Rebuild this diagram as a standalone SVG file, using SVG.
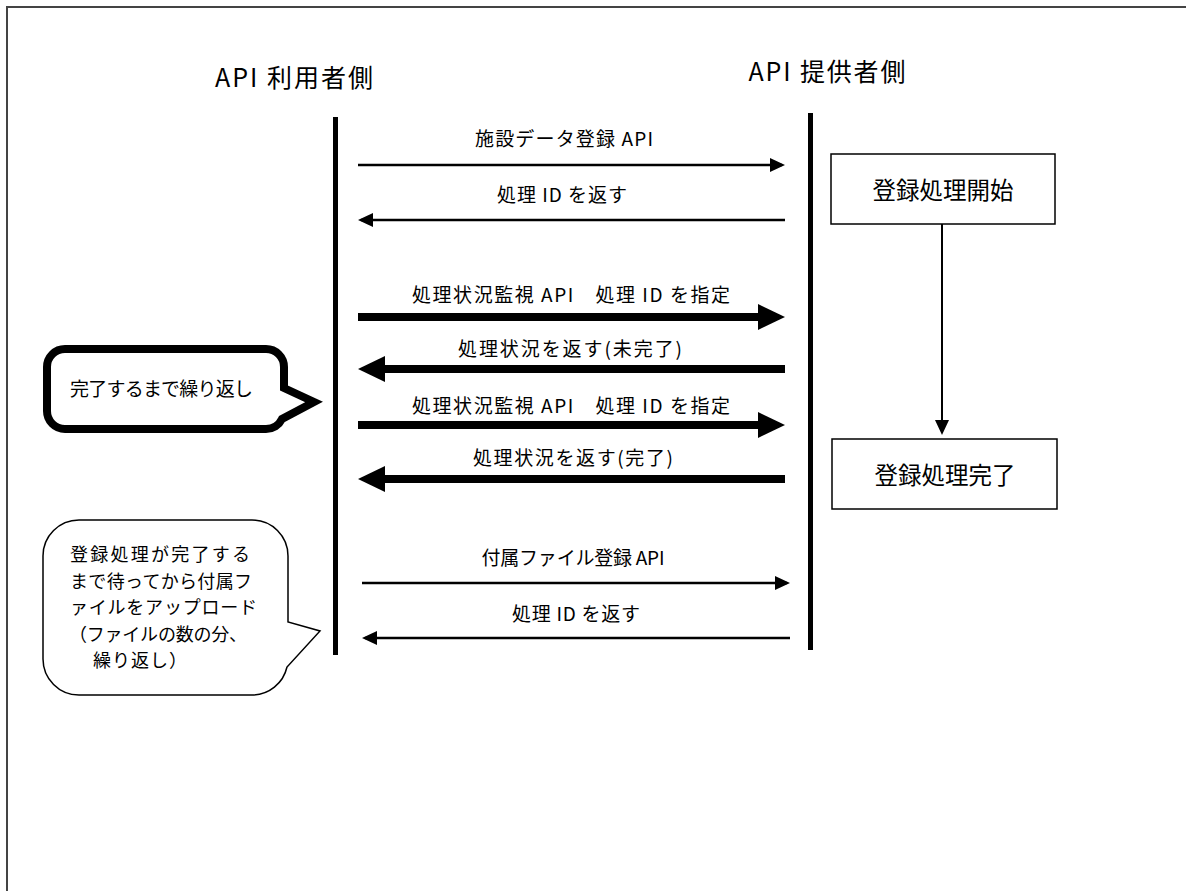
<svg xmlns="http://www.w3.org/2000/svg" width="1186" height="891" viewBox="0 0 1186 891">
<style>
text{font-family:"Noto Sans CJK JP","Noto Sans",sans-serif;fill:#000}
.title{font-size:25px}
.lbl{font-size:19px}
.box{fill:#fff;stroke:#000;stroke-width:1.5}
.boxt{font-size:23.5px}
.life{stroke:#000;stroke-width:5}
.thin{stroke:#000;stroke-width:2.5;fill:none}
.thick{stroke:#000;stroke-width:8;fill:none}
.co{font-size:18px}
</style>
<defs>
<marker id="ah" markerUnits="userSpaceOnUse" markerWidth="15" markerHeight="14" refX="12" refY="7" orient="auto"><path d="M0,0 L15,7 L0,14 Z" fill="#000"/></marker>
<marker id="ahb" markerUnits="userSpaceOnUse" markerWidth="27" markerHeight="26" refX="18" refY="13" orient="auto"><path d="M0,0 L27,13 L0,26 Z" fill="#000"/></marker>
</defs>
<rect x="7" y="7" width="1200" height="900" fill="#fff" stroke="#444" stroke-width="2"/>
<g id="title-user"><text class="title" x="294" y="87" text-anchor="middle" textLength="158" lengthAdjust="spacing">API 利用者側</text></g>
<g id="title-provider"><text class="title" x="827" y="81" text-anchor="middle" textLength="157" lengthAdjust="spacing">API 提供者側</text></g>
<g id="lifeline-user"><line class="life" x1="335.5" y1="117" x2="335.5" y2="655"/></g>
<g id="lifeline-provider"><line class="life" x1="810.5" y1="113" x2="810.5" y2="650"/></g>
<g id="box-start"><rect class="box" x="831" y="154" width="224" height="70"/><text class="boxt" x="943" y="199" text-anchor="middle">登録処理開始</text></g>
<g id="box-end"><rect class="box" x="832" y="439" width="225" height="70"/><text class="boxt" x="945" y="484" text-anchor="middle">登録処理完了</text></g>
<g id="callout-loop">
<path d="M65 349 H266 A18 18 0 0 1 284 367 V388 L314 402 L282 419 A18 18 0 0 1 266 429 H65 A18 18 0 0 1 47 411 V367 A18 18 0 0 1 65 349 Z" fill="#fff" stroke="#000" stroke-width="8" stroke-linejoin="miter"/>
<text class="lbl" x="70" y="396" textLength="183" lengthAdjust="spacing">完了するまで繰り返し</text>
</g>
<g id="callout-note">
<path d="M79 520 H252 A36 36 0 0 1 288 556 V622 L320 631 L287 667 A36 36 0 0 1 252 695 H79 A36 36 0 0 1 43 659 V556 A36 36 0 0 1 79 520 Z" fill="#fff" stroke="#000" stroke-width="1.5"/>
<text class="co" x="70" y="561" textLength="180" lengthAdjust="spacing">登録処理が完了する</text>
<text class="co" x="70" y="587.5" textLength="182" lengthAdjust="spacing">まで待ってから付属フ</text>
<text class="co" x="70" y="614" textLength="187" lengthAdjust="spacing">ァイルをアップロード</text>
<text class="co" x="69" y="640.5" textLength="178" lengthAdjust="spacing">（ファイルの数の分、</text>
<text class="co" x="93" y="667" textLength="94" lengthAdjust="spacing">繰り返し）</text>
</g>
<g id="connectors">
<line class="thin" x1="358" y1="165" x2="782" y2="165" marker-end="url(#ah)"/>
<line class="thin" x1="785" y1="220" x2="361" y2="220" marker-end="url(#ah)"/>
<line class="thick" x1="358" y1="317" x2="776" y2="317" marker-end="url(#ahb)"/>
<line class="thick" x1="785" y1="369" x2="367" y2="369" marker-end="url(#ahb)"/>
<line class="thick" x1="358" y1="425" x2="776" y2="425" marker-end="url(#ahb)"/>
<line class="thick" x1="785" y1="479" x2="367" y2="479" marker-end="url(#ahb)"/>
<line class="thin" x1="362" y1="583" x2="787" y2="583" marker-end="url(#ah)"/>
<line class="thin" x1="790" y1="638" x2="365" y2="638" marker-end="url(#ah)"/>
<line stroke="#000" stroke-width="2" x1="942" y1="224" x2="942" y2="432" marker-end="url(#ah)"/>
</g>
<g id="labels">
<text class="lbl" x="564" y="146" text-anchor="middle" textLength="178" lengthAdjust="spacing">施設データ登録 API</text>
<text class="lbl" x="562" y="202" text-anchor="middle" textLength="130" lengthAdjust="spacing">処理 ID を返す</text>
<text class="lbl" x="571" y="302" text-anchor="middle" textLength="318" lengthAdjust="spacing">処理状況監視 API　処理 ID を指定</text>
<text class="lbl" x="570" y="356" text-anchor="middle" textLength="224" lengthAdjust="spacing">処理状況を返す(未完了)</text>
<text class="lbl" x="571" y="413" text-anchor="middle" textLength="318" lengthAdjust="spacing">処理状況監視 API　処理 ID を指定</text>
<text class="lbl" x="573" y="465" text-anchor="middle" textLength="200" lengthAdjust="spacing">処理状況を返す(完了)</text>
<text class="lbl" x="573" y="565" text-anchor="middle" textLength="183" lengthAdjust="spacing">付属ファイル登録 API</text>
<text class="lbl" x="576" y="621" text-anchor="middle" textLength="128" lengthAdjust="spacing">処理 ID を返す</text>
</g>
</svg>
